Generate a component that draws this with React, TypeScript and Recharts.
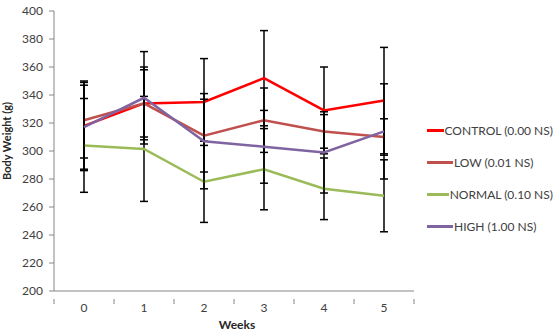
import { LineChart, Line, XAxis, YAxis, ErrorBar, Legend } from "recharts";

const weeks = [0, 1, 2, 3, 4, 5];

const control = [318, 334, 335, 352, 329, 336];
const controlErr = [32, 26, 31, 34, 31, 38];
const low = [322, 334, 311, 322, 314, 310];
const lowErr = [27, 24, 26, 23, 12, 13];
const normal = [304, 301.5, 278, 287, 273, 268];
const normalErr = [33.5, 37.5, 29, 29, 22, 25.7];
const high = [317, 338, 307, 303, 299, 314];
const highErr = [30, 33, 34, 26, 29, 34];

const yTicks = [200, 220, 240, 260, 280, 300, 320, 340, 360, 380, 400];
// integer ticks carry the labels, half steps carry the category dividers
const xTicks = [-0.5, 0, 0.5, 1, 1.5, 2, 2.5, 3, 3.5, 4, 4.5, 5, 5.5];

const series = [
  { key: "control", name: "CONTROL (0.00 NS)", color: "#ff0000" },
  { key: "low", name: "LOW (0.01 NS)", color: "#c0504d" },
  { key: "normal", name: "NORMAL (0.10 NS)", color: "#9bbb59" },
  { key: "high", name: "HIGH (1.00 NS)", color: "#8064a2" },
];

const data = weeks.map((w, i) => ({
  week: w,
  control: control[i],
  controlErr: controlErr[i],
  low: low[i],
  lowErr: lowErr[i],
  normal: normal[i],
  normalErr: normalErr[i],
  high: high[i],
  highErr: highErr[i],
}));

const FONT = "Lato, 'Open Sans', sans-serif";
const AXIS = "#868686";
const TEXT = "#404040";
const TITLE = "#262626";

const WeekTick = (props: any) => {
  const { x, y, payload } = props;
  if (Number.isInteger(payload.value)) {
    return (
      <text x={x} y={y + 13} textAnchor="middle" fontSize={12} fill={TEXT} fontFamily={FONT}>
        {payload.value}
      </text>
    );
  }
  return <line x1={x} y1={y} x2={x} y2={y + 5} stroke={AXIS} strokeWidth={1} />;
};

const WeightLabel = (props: any) => {
  const { viewBox } = props;
  const cx = 6;
  const cy = viewBox.y + viewBox.height / 2 - 10;
  return (
    <text
      x={cx}
      y={cy}
      transform={`rotate(-90, ${cx}, ${cy})`}
      textAnchor="middle"
      dominantBaseline="central"
      fontSize={11}
      fontWeight="bold"
      fill={TITLE}
      fontFamily={FONT}
    >
      Body Weight (g)
    </text>
  );
};

const WeeksLabel = (props: any) => {
  const { viewBox } = props;
  const cx = viewBox.x + viewBox.width / 2 + 3;
  return (
    <text x={cx} y={324} textAnchor="middle" dominantBaseline="central" fontSize={12} fontWeight="bold" fill={TITLE} fontFamily={FONT}>
      Weeks
    </text>
  );
};

const SeriesLegend = () => (
  <div style={{ fontFamily: FONT, fontSize: 12, color: TEXT, whiteSpace: "nowrap" }}>
    {series.map((s) => (
      <div key={s.key} style={{ display: "flex", alignItems: "center", height: 32 }}>
        <span style={{ display: "inline-block", width: 26, height: 3, background: s.color, marginRight: 1 }} />
        <span>{s.name}</span>
      </div>
    ))}
  </div>
);

export default function App() {
  return (
    <div style={{ position: "absolute", left: 0, top: 0, background: "#fff" }}>
      <LineChart
        width={553}
        height={333}
        data={data}
        margin={{ top: 11, right: 139, left: 0, bottom: 0 }}
      >
        <XAxis
          dataKey="week"
          type="number"
          domain={[-0.5, 5.5]}
          ticks={xTicks}
          interval={0}
          height={42}
          stroke={AXIS}
          tickLine={false}
          tick={<WeekTick />}
          label={<WeeksLabel />}
        />
        <YAxis
          domain={[200, 400]}
          ticks={yTicks}
          interval={0}
          width={54}
          stroke={AXIS}
          tickSize={5}
          tickMargin={6}
          tick={{ fontSize: 12, fill: TEXT, fontFamily: FONT }}
          label={<WeightLabel />}
        />
        {series.map((s) => (
          <Line
            key={s.key}
            type="linear"
            dataKey={s.key}
            name={s.name}
            stroke={s.color}
            strokeWidth={2.5}
            dot={false}
            isAnimationActive={false}
          >
            <ErrorBar dataKey={`${s.key}Err`} direction="y" width={4} stroke="#000" strokeWidth={1.5} />
          </Line>
        ))}
        <Legend
          layout="horizontal"
          verticalAlign="middle"
          align="center"
          content={<SeriesLegend />}
          wrapperStyle={{ left: 427, top: 114, width: 126 }}
        />
      </LineChart>
    </div>
  );
}
